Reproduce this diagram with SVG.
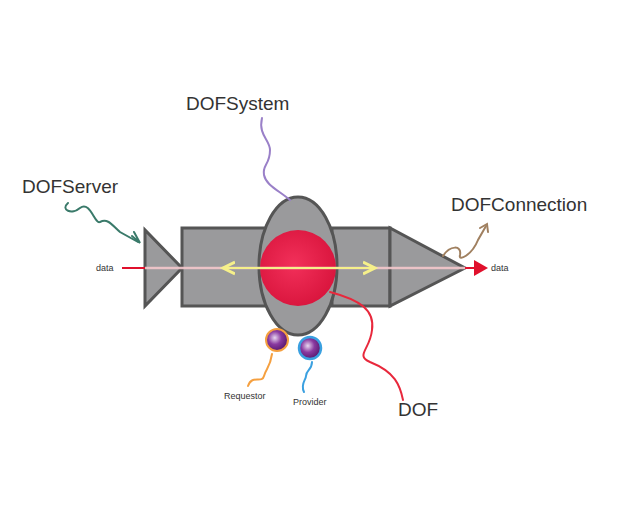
<svg xmlns="http://www.w3.org/2000/svg" width="631" height="522" viewBox="0 0 631 522">
<defs>
<style>
.body{fill:#9a9a9c;stroke:#555;stroke-width:3}
.lbl{font-family:"Liberation Sans",Arial,sans-serif;fill:#333}
.big{font-size:19px}
.sm{font-size:9px}
.sq{fill:none;stroke-width:2;stroke-linecap:round}
</style>
<radialGradient id="rg" cx="0.45" cy="0.45" r="0.6"><stop offset="0" stop-color="#f2305a"/><stop offset="1" stop-color="#d8143c"/></radialGradient>
<radialGradient id="pg" cx="0.4" cy="0.4" r="0.6"><stop offset="0" stop-color="#e8d8f0"/><stop offset="0.5" stop-color="#8a3aa0"/><stop offset="1" stop-color="#5a1a70"/></radialGradient>
<marker id="ar" markerWidth="8" markerHeight="8" refX="6" refY="4" orient="auto"><path d="M0,0 L7,4 L0,8 Z" fill="#e0102c"/></marker>
<marker id="ay" markerWidth="8" markerHeight="8" refX="5" refY="4" orient="auto-start-reverse"><path d="M0,1 L6,4 L0,7" fill="none" stroke="#f6f08a" stroke-width="1.5"/></marker>
</defs>
<rect width="631" height="522" fill="#fff"/>
<g id="dof-server">
<polygon class="body" points="145,230 145,306 182,268"/>
<rect class="body" x="182" y="228" width="85" height="78"/>
</g>
<g id="dof-connection">
<rect class="body" x="332" y="228" width="58" height="78"/>
<polygon class="body" points="390,228 390,306 465,268"/>
</g>
<g id="dof-system"><ellipse class="body" cx="298" cy="266" rx="39" ry="69"/></g>
<g id="dof"><circle cx="298" cy="268" r="38" fill="url(#rg)"/></g>
<g id="requestor"><circle cx="277" cy="340" r="11" fill="url(#pg)" stroke="#f5a040" stroke-width="2"/></g>
<g id="provider"><circle cx="310" cy="348" r="11" fill="url(#pg)" stroke="#3aa0e0" stroke-width="2.5"/></g>
<g id="connectors">
<line x1="122" y1="268" x2="145" y2="268" stroke="#e0102c" stroke-width="2"/>
<line x1="145" y1="268" x2="465" y2="268" stroke="#f4c8cc" stroke-width="2.5" opacity="0.9"/>
<line x1="465" y1="268" x2="486" y2="268" stroke="#e0102c" stroke-width="2" marker-end="url(#ar)"/>
<line x1="225" y1="268" x2="373" y2="268" stroke="#f6f08a" stroke-width="2" marker-start="url(#ay)" marker-end="url(#ay)"/>
<path class="sq" stroke="#9a80c8" d="M262,118 C258,135 270,140 270,150 C270,165 262,165 264,175 C266,185 278,190 290,200"/>
<path class="sq" stroke="#3a7a6a" d="M68,203 C60,210 72,215 80,208 C90,200 95,225 100,222 C108,218 112,225 120,232 L138,242"/>
<path class="sq" stroke="#3a7a6a" d="M132,236 L140,243 L134,232"/>
<path class="sq" stroke="#a08060" d="M443,256 C450,245 462,245 460,255 C458,262 472,255 478,240 L486,226"/>
<path class="sq" stroke="#a08060" d="M480,228 L487,224 L488,232"/>
<path class="sq" stroke="#e8283c" d="M330,292 C360,300 375,310 372,330 C370,350 355,355 370,362 C395,372 400,385 403,400"/>
<path class="sq" stroke="#f5a040" d="M248,386 C252,374 262,384 264,376 C266,368 270,368 272,354"/>
<path class="sq" stroke="#3aa0e0" d="M304,392 C300,384 306,380 306,376 C306,370 312,370 312,362"/>
</g>
<g id="labels">
<text class="lbl big" x="186" y="110">DOFSystem</text>
<text class="lbl big" x="22" y="193">DOFServer</text>
<text class="lbl big" x="451" y="211">DOFConnection</text>
<text class="lbl big" x="398" y="416">DOF</text>
<text class="lbl sm" x="96" y="271">data</text>
<text class="lbl sm" x="491" y="271">data</text>
<text class="lbl sm" x="224" y="399">Requestor</text>
<text class="lbl sm" x="293" y="405">Provider</text>
</g>
</svg>
